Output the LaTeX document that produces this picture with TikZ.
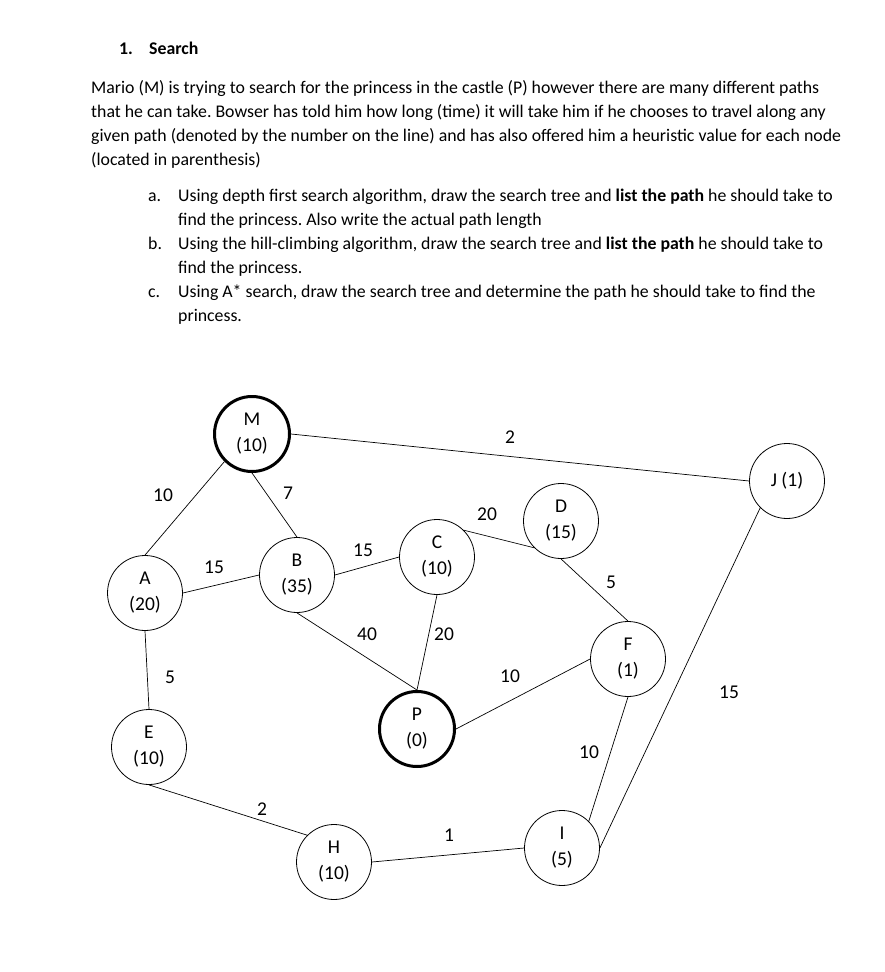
\documentclass[tikz,border=0pt]{standalone}
\usepackage{fontspec}
\setmainfont{Carlito}
\usetikzlibrary{positioning}
\frenchspacing

\begin{document}
\begin{tikzpicture}[x=1pt, y=-1pt,
  txt/.style={anchor=north west, inner sep=0pt, font=\fontsize{17.8}{24}\selectfont},
  place/.style={draw, circle, minimum size=75pt, inner sep=0pt, align=center,
                line width=0.8pt, font=\fontsize{19.5}{26}\selectfont},
  endplace/.style={place, line width=3pt},
  road/.style={line width=0.7pt},
  cost/.style={inner sep=0pt, font=\fontsize{19.5}{22}\selectfont}]

\useasboundingbox (0,0) rectangle (884,972);

% question text
\node[txt, font=\bfseries\fontsize{17.8}{24}\selectfont] (head) at (119,37)
  {\begin{tabular}{@{}p{30pt}@{}l@{}}1. & Search\end{tabular}};
\node[txt] (intro) at (91,76)
  {\begin{tabular}{@{}l@{}}
   Mario (M) is trying to search for the princess in the castle (P) however there are many different paths\\
   that he can take. Bowser has told him how long (time) it will take him if he chooses to travel along any\\
   given path (denoted by the number on the line) and has also offered him a heuristic value for each node\\
   (located in parenthesis)
   \end{tabular}};
\node[txt] (tasks) at (148,184)
  {\begin{tabular}{@{}p{30pt}@{}l@{}}
   a. & Using depth first search algorithm, draw the search tree and \textbf{list the path} he should take to\\
      & find the princess. Also write the actual path length\\
   b. & Using the hill-climbing algorithm, draw the search tree and \textbf{list the path} he should take to\\
      & find the princess.\\
   c. & Using A* search, draw the search tree and determine the path he should take to find the\\
      & princess.
   \end{tabular}};

% map nodes
\node[endplace] (M) at (252,434) {M\\(10)};
\node[place] (A) at (145,593) {A\\(20)};
\node[place] (B) at (297,575) {B\\(35)};
\node[place] (C) at (437,557) {C\\(10)};
\node[place] (D) at (561,521) {D\\(15)};
\node[place] (J) at (787,481) {J (1)};
\node[place] (F) at (628,659) {F\\(1)};
\node[endplace] (P) at (417,729) {P\\(0)};
\node[place] (E) at (149,747) {E\\(10)};
\node[place] (H) at (334,862) {H\\(10)};
\node[place] (I) at (562,848) {I\\(5)};

% roads
\draw[road] (M.south west) -- (A.north);
\draw[road] (M.south) -- (B.north);
\draw[road] (M.east) -- (J.west);
\draw[road] (A.east) -- (B.west);
\draw[road] (A.south) -- (E.north);
\draw[road] (B.east) -- (C.west);
\draw[road] (B.south) -- (P.north);
\draw[road] (C.south) -- (P.north);
\draw[road] (C.north east) -- (D.south west);
\draw[road] (D.south) -- (F.north);
\draw[road] (F.west) -- (P.east);
\draw[road] (F.south) -- (I.north east);
\draw[road] (I.east) -- (J.south west);
\draw[road] (E.south) -- (H.north west);
\draw[road] (H.east) -- (I.west);

% costs
\node[cost] (cMA) at (163,495) {10};
\node[cost] (cMB) at (288,493) {7};
\node[cost] (cMJ) at (510,437) {2};
\node[cost] (cAB) at (214,567) {15};
\node[cost] (cBC) at (363,550) {15};
\node[cost] (cCD) at (487,514) {20};
\node[cost] (cDF) at (611,582) {5};
\node[cost] (cBP) at (367,634) {40};
\node[cost] (cCP) at (444,634) {20};
\node[cost] (cFP) at (510,676) {10};
\node[cost] (cAE) at (170,677) {5};
\node[cost] (cIJ) at (729,692) {15};
\node[cost] (cFI) at (589,752) {10};
\node[cost] (cEH) at (262,809) {2};
\node[cost] (cHI) at (449,835) {1};
\end{tikzpicture}
\end{document}
